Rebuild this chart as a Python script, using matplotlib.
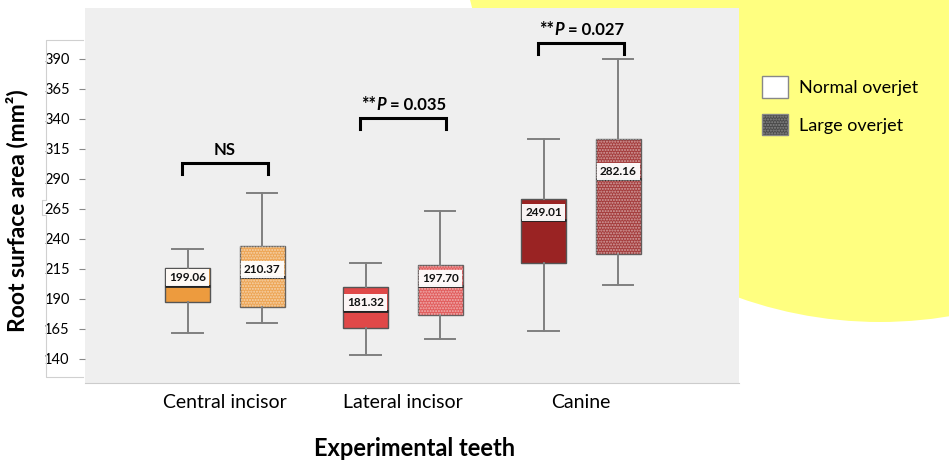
import numpy as np
import matplotlib.pyplot as plt
from matplotlib.patches import Patch, Rectangle, Ellipse
from matplotlib.lines import Line2D

plt.rcParams['font.family'] = ['Lato', 'DejaVu Sans']

# data
groups = ['Central incisor', 'Lateral incisor', 'Canine']
normal_whislo = [161.4, 143.3, 163.6]
normal_q1 = [187.8, 166.1, 219.7]
normal_med = [201.1, 180.3, 255.8]
normal_q3 = [215.6, 200.3, 273.3]
normal_whishi = [231.7, 220.3, 323.1]
normal_labels = ['199.06', '181.32', '249.01']

large_whislo = [169.7, 156.4, 201.7]
large_q1 = [183.1, 176.9, 227.2]
large_med = [208.1, 200.6, 290.0]
large_q3 = [234.4, 218.3, 323.6]
large_whishi = [278.1, 263.1, 389.7]
large_labels = ['210.37', '197.70', '282.16']

bracket_y = [303.3, 340.8, 403.3]
p_texts = ['NS', '0.035', '0.027']

yticks = [140, 165, 190, 215, 240, 265, 290, 315, 340, 365, 390]
colors = ['#ed9b3e', '#e04848', '#9a2323']

fig = plt.figure(figsize=(9.49, 4.62), dpi=100)

# yellow circle behind the chart
fig.patches.append(Ellipse((8.80, 5.62), 8.44, 8.44, transform=fig.dpi_scale_trans,
                           facecolor='#ffff80', edgecolor='none', zorder=-1))

ax = fig.add_axes([85 / 949, 79 / 462, 654 / 949, 375 / 462])
ax.set_zorder(1)
ax.set_facecolor('#efefef')

centers = np.arange(1, len(groups) + 1)
off = 0.21
bw = 0.25


def stats(lo, q1, med, q3, hi):
    return [dict(whislo=a, q1=b, med=c, q3=d, whishi=e, fliers=[])
            for a, b, c, d, e in zip(lo, q1, med, q3, hi)]


box_kw = dict(widths=bw, patch_artist=True, showfliers=False, capwidths=0.17,
              boxprops=dict(edgecolor='#555555', linewidth=1.0),
              whiskerprops=dict(color='#7f7f7f', linewidth=1.4),
              capprops=dict(color='#7f7f7f', linewidth=1.4),
              medianprops=dict(color='#222222', linewidth=2.0))

bn = ax.bxp(stats(normal_whislo, normal_q1, normal_med, normal_q3, normal_whishi),
            positions=centers - off, **box_kw)
bl = ax.bxp(stats(large_whislo, large_q1, large_med, large_q3, large_whishi),
            positions=centers + off, **box_kw)

for i, c in enumerate(colors):
    bn['boxes'][i].set_facecolor(c)
    bl['boxes'][i].set_facecolor(c)
    bl['boxes'][i].set_alpha(0.88)
    # dotted texture on large overjet boxes
    x0 = centers[i] + off - bw / 2
    ax.add_patch(Rectangle((x0, large_q1[i]), bw, large_q3[i] - large_q1[i],
                           fill=False, hatch='......', edgecolor=(1, 1, 1, 0.5),
                           linewidth=0, zorder=2.5))

# value labels
lab_kw = dict(ha='center', va='center', fontsize=8.5, fontweight='bold', color='#111111',
              zorder=5, bbox=dict(boxstyle='square,pad=0.25', facecolor='white',
                                  edgecolor='none', alpha=0.95))
for i in range(len(groups)):
    ax.text(centers[i] - off, normal_med[i] + 6.5, normal_labels[i], **lab_kw)
    ax.text(centers[i] + off, large_med[i] + 6.5, large_labels[i], **lab_kw)

# significance brackets
for i in range(len(groups)):
    x1, x2 = centers[i] - off - 0.03, centers[i] + off + 0.03
    y = bracket_y[i]
    ax.plot([x1, x1, x2, x2], [y - 9, y, y, y - 9], color='black', lw=2.2,
            solid_joinstyle='miter', zorder=4)
    if p_texts[i] == 'NS':
        ax.text(centers[i], y + 4, 'NS', ha='center', va='bottom', fontsize=12,
                fontweight='bold')
    else:
        t1 = ax.text(centers[i] - 0.235, y + 4, '**', ha='left', va='bottom',
                     fontsize=13, fontweight='bold')
        t2 = ax.annotate('P', xy=(1, 0), xycoords=t1, va='bottom', ha='left',
                         fontsize=12, fontweight='bold', fontstyle='italic')
        ax.annotate(' = ' + p_texts[i], xy=(1, 0), xycoords=t2, va='bottom', ha='left',
                    fontsize=12, fontweight='bold')

ax.set_xlim(0.2135, 3.888)
ax.set_ylim(120, 432.5)
ax.set_yticks(yticks)
ax.set_xticks(centers)
ax.set_xticklabels(groups, fontsize=14)
ax.tick_params(axis='x', length=0, pad=8)
ax.tick_params(axis='y', length=4, color='#888888', labelsize=10.5, pad=7)
for s in ['top', 'right', 'left']:
    ax.spines[s].set_visible(False)
ax.spines['bottom'].set_color('#cccccc')

ax.set_ylabel('Root surface area (mm²)', fontsize=16.5, fontweight='bold')
ax.yaxis.set_label_coords(-0.086, 0.46)
fig.text(415 / 949, 1 - 449 / 462, 'Experimental teeth', ha='center', va='center',
         fontsize=17, fontweight='bold')

# thin decorative line left of tick labels
lx = np.array([83, 46, 46, 42, 42, 46, 46, 83])
ly = np.array([40, 40, 200, 200, 215, 215, 377, 377])
fig.add_artist(Line2D(lx / 100, (462 - ly) / 100, transform=fig.dpi_scale_trans,
                      color='#d0d0d0', lw=0.8))

handles = [Patch(facecolor='white', edgecolor='#888888', label='Normal overjet'),
           Patch(facecolor='#4a4a4a', edgecolor='#888888', hatch='......',
                 label='Large overjet')]
fig.legend(handles=handles, loc='upper left', bbox_to_anchor=(746 / 949, 1 - 60 / 462),
           frameon=False, fontsize=13, handlelength=1.45, handleheight=1.45,
           handletextpad=0.6, labelspacing=0.9)

fig.savefig('out.png', dpi=100)
